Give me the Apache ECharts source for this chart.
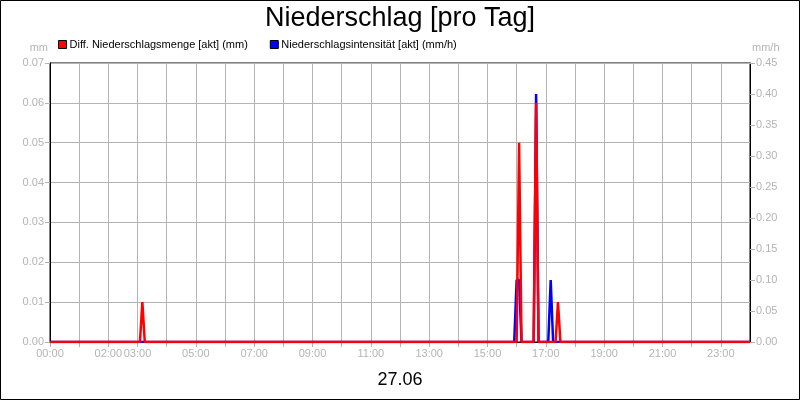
<!DOCTYPE html>
<html>
<head>
<meta charset="utf-8">
<title>Niederschlag [pro Tag]</title>
<script src="https://cdn.jsdelivr.net/npm/echarts@6/dist/echarts.min.js"></script>
<style>
    html, body { margin: 0; padding: 0; background: #fff; }
    #chart { width: 800px; height: 400px; }
</style>
</head>
<body>
<div id="chart"></div>
<script>
// Minutes since midnight, 5 minute steps around the rain events
const mengeTimes = [0, 185, 190, 195, 960, 965, 970, 995, 1000, 1005, 1040, 1045, 1050, 1440];
const mengeValues = [0, 0, 0.01, 0, 0, 0.05, 0, 0, 0.06, 0, 0, 0.01, 0, 0];

const intensTimes = [0, 955, 960, 965, 970, 995, 1000, 1005, 1025, 1030, 1035, 1440];
const intensValues = [0, 0, 0.1, 0.1, 0, 0, 0.4, 0, 0, 0.1, 0, 0];

// Hours that get a label on the x axis
const labelHours = [0, 2, 3, 5, 7, 9, 11, 13, 15, 17, 19, 21, 23];

const gray = '#b4b4b4';
const font = 'Liberation Sans, Arial, sans-serif';

function pairs(xs, ys) {
    return xs.map((x, i) => [x, ys[i]]);
}

const chart = echarts.init(document.getElementById('chart'), null, { renderer: 'canvas' });

const option = {
    backgroundColor: '#fff',
    textStyle: { fontFamily: font },
    animation: false,
    title: [{
        text: 'Niederschlag [pro Tag]',
        left: 'center',
        top: 0,
        textStyle: { fontSize: 27, fontWeight: 'normal', color: '#000', fontFamily: font }
    }, {
        text: '27.06',
        left: 'center',
        top: 366,
        textStyle: { fontSize: 18, fontWeight: 'normal', color: '#000', fontFamily: font }
    }],
    legend: {
        left: 58,
        top: 39,
        padding: 0,
        icon: 'rect',
        itemWidth: 8,
        itemHeight: 8,
        itemGap: 22,
        itemStyle: { borderColor: '#000', borderWidth: 1 },
        textStyle: { fontSize: 11, color: '#000', fontFamily: font, padding: [0, 0, 0, -2] },
        data: ['Diff. Niederschlagsmenge [akt] (mm)', 'Niederschlagsintensität [akt] (mm/h)']
    },
    grid: {
        left: 50,
        right: 50,
        top: 63,
        bottom: 58,
        show: true,
        borderColor: '#000',
        borderWidth: 1
    },
    xAxis: {
        type: 'value',
        min: 0,
        max: 1440,
        interval: 60,
        axisLine: { lineStyle: { color: '#000' } },
        axisTick: { length: 5, lineStyle: { color: gray } },
        splitLine: { show: true, lineStyle: { color: gray, width: 1 } },
        axisLabel: {
            color: gray,
            fontSize: 11,
            margin: 6,
            showMaxLabel: false,
            formatter: function (v) {
                const h = Math.round(v / 60);
                if (labelHours.indexOf(h) < 0) return '';
                return String(h).padStart(2, '0') + ':00';
            }
        }
    },
    yAxis: [{
        type: 'value',
        min: 0,
        max: 0.07,
        interval: 0.01,
        name: 'mm',
        nameGap: 10,
        nameTextStyle: { color: gray, fontSize: 11, align: 'right', padding: [0, 2, 0, 0] },
        axisLine: { show: true, lineStyle: { color: '#000' } },
        axisTick: { show: true, length: 5, lineStyle: { color: gray } },
        splitLine: { show: true, lineStyle: { color: gray, width: 1 } },
        axisLabel: {
            color: gray,
            fontSize: 11,
            margin: 6,
            formatter: v => v.toFixed(2)
        }
    }, {
        type: 'value',
        min: 0,
        max: 0.45,
        interval: 0.05,
        name: 'mm/h',
        nameGap: 10,
        nameTextStyle: { color: gray, fontSize: 11, align: 'left', padding: [0, 0, 0, 2] },
        position: 'right',
        axisLine: { show: true, lineStyle: { color: '#000' } },
        axisTick: { show: true, length: 5, lineStyle: { color: gray } },
        splitLine: { show: false },
        axisLabel: {
            color: gray,
            fontSize: 11,
            margin: 6,
            formatter: v => v.toFixed(2)
        }
    }],
    series: [{
        name: 'Diff. Niederschlagsmenge [akt] (mm)',
        type: 'line',
        yAxisIndex: 0,
        z: 4,
        showSymbol: false,
        color: '#ff0000',
        lineStyle: { color: '#ff0000', width: 2.5 },
        data: pairs(mengeTimes, mengeValues)
    }, {
        name: 'Niederschlagsintensität [akt] (mm/h)',
        type: 'line',
        yAxisIndex: 1,
        z: 3,
        showSymbol: false,
        color: '#0000ff',
        lineStyle: { color: '#0000ff', width: 2.5 },
        data: pairs(intensTimes, intensValues)
    }],
    graphic: [{
        type: 'rect',
        shape: { x: 0.5, y: 0.5, width: 799, height: 399 },
        style: { fill: null, stroke: '#000', lineWidth: 1 },
        silent: true,
        z: 100
    }]
};

chart.setOption(option);
</script>
</body>
</html>
